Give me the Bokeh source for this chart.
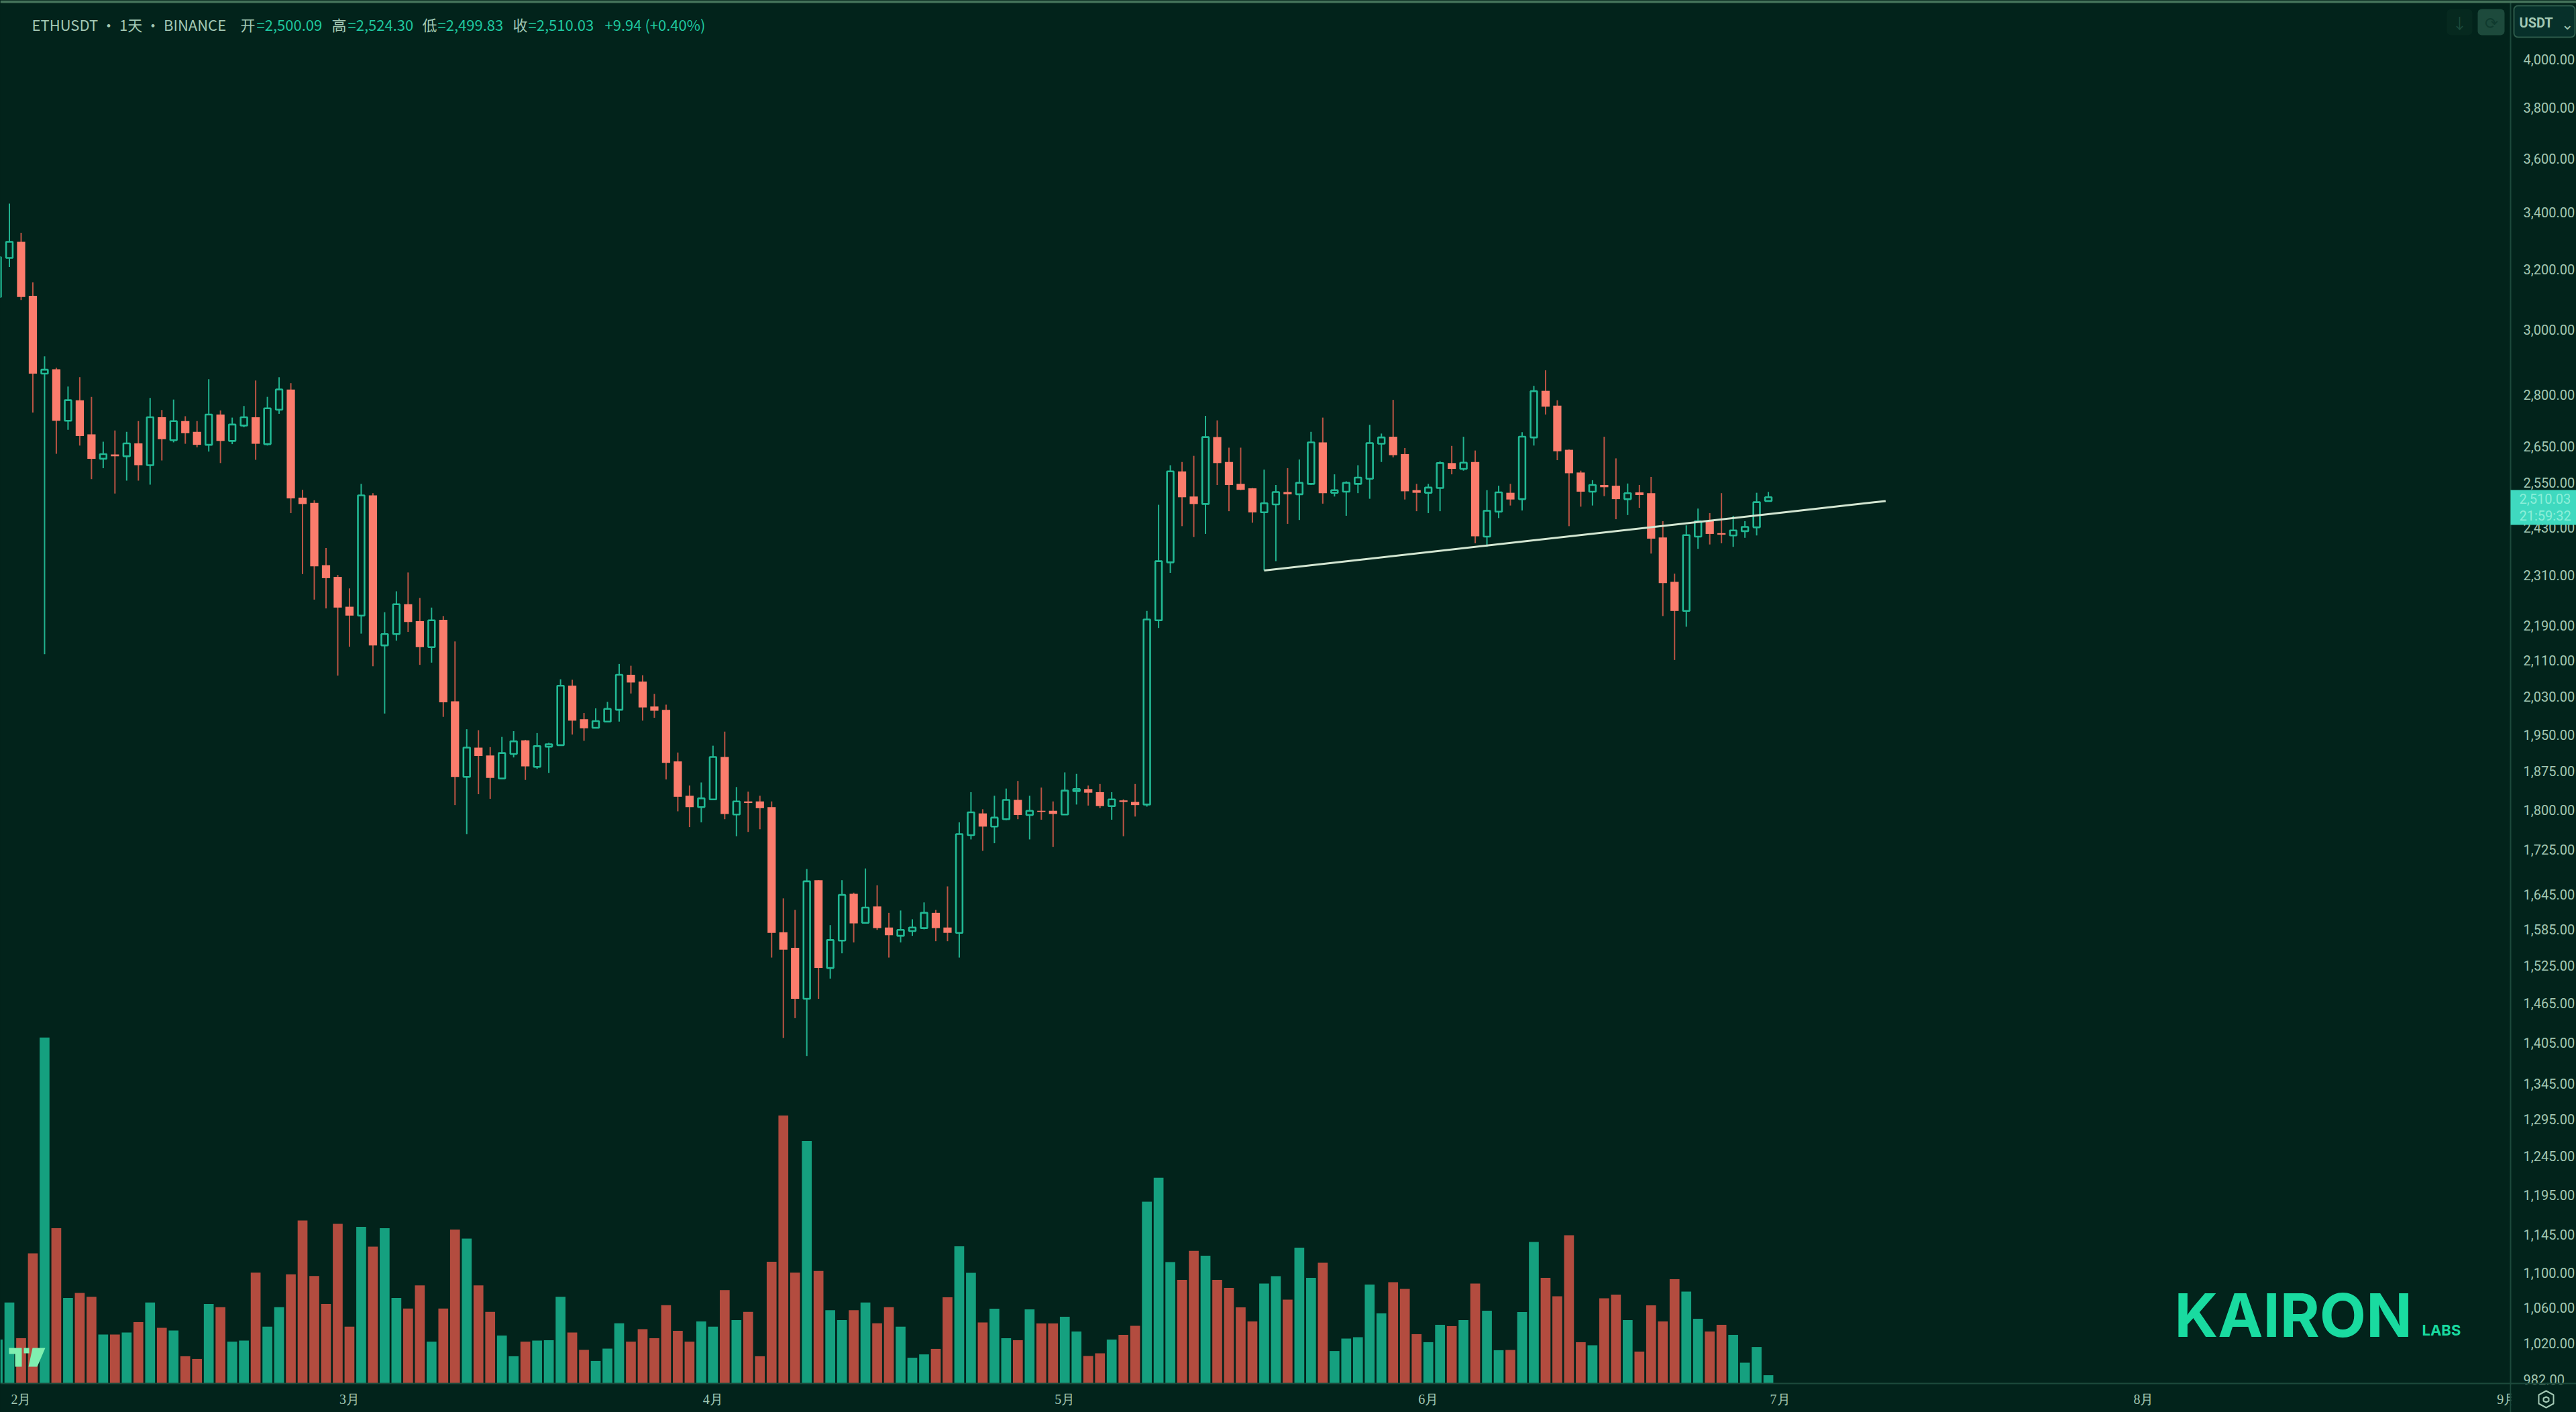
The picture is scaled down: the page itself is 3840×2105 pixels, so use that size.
from bokeh.embed import file_html
from bokeh.resources import INLINE
from bokeh.plotting import figure
from bokeh.models import (ColumnDataSource, Range1d, LinearScale, FixedTicker, NumeralTickFormatter,
                          Label, BoxAnnotation, PolyAnnotation, Span)

BG = "#02231b"
UP = "#21b994"
UP_WICK = "#21b28f"
DOWN = "#fb7c6c"
DOWN_WICK = "#bb5444"
VOL_UP = "#15a07f"
VOL_DOWN = "#b34c3f"
AXIS_TEXT = "#a3c8b4"
AXIS_LINE = "#1c4a3c"

# Daily ETHUSDT candles, 30 Jan - 30 Jun (day 0 = 1 Feb)
first_day = -2
open_ = [3106, 3238,
         3294, 3110, 2863, 2876, 2723, 2783, 2684, 2615, 2627, 2622, 2658, 2597, 2733, 2667, 2722, 2691, 2654, 2741, 2665, 2709, 2733, 2656, 2755, 2815, 2509, 2495, 2335, 2306,
         2234, 2213, 2515, 2144, 2170, 2240, 2200, 2140, 2203, 2020, 1864, 1923, 1907, 1861, 1910, 1938, 1884, 1925, 1928, 2054, 1982, 1964, 1977, 2002, 2078, 2063, 2009, 2002, 1895, 1827, 1805,
         1820, 1904, 1791, 1816, 1816, 1805, 1580, 1554, 1472, 1670, 1521, 1566, 1646, 1596, 1624, 1588, 1574, 1582, 1587, 1613, 1588, 1579, 1752, 1793, 1768, 1782, 1819, 1790, 1798, 1798,
         1791, 1836, 1840, 1834, 1807, 1818, 1815, 1810, 2202, 2342, 2580, 2512, 2492, 2676, 2606, 2546, 2534, 2470, 2491, 2524, 2518, 2546, 2661, 2522, 2525, 2546, 2560, 2657, 2677, 2628, 2529,
         2522, 2535, 2603, 2587, 2606, 2407, 2472, 2522, 2505, 2675, 2811, 2767, 2640, 2577, 2525, 2543, 2541, 2505, 2523, 2521, 2405, 2294, 2224, 2407, 2447, 2416, 2410, 2421, 2431, 2500.09]
high = [3281, 3431,
        3326, 3155, 2916, 2881, 2824, 2852, 2793, 2663, 2695, 2691, 2722, 2790, 2754, 2785, 2736, 2722, 2846, 2753, 2732, 2766, 2842, 2793, 2852, 2834, 2530, 2502, 2378, 2311,
        2278, 2546, 2521, 2221, 2271, 2317, 2255, 2232, 2212, 2153, 1961, 1959, 1924, 1945, 1957, 1939, 1953, 1933, 2068, 2067, 1995, 2005, 2019, 2102, 2098, 2077, 2036, 2013, 1913, 1847, 1853,
        1927, 1956, 1844, 1835, 1827, 1816, 1638, 1618, 1690, 1670, 1592, 1670, 1648, 1691, 1661, 1613, 1617, 1602, 1631, 1618, 1659, 1776, 1834, 1801, 1827, 1841, 1856, 1827, 1843, 1816,
        1873, 1870, 1847, 1850, 1834, 1820, 1850, 2224, 2490, 2597, 2606, 2623, 2737, 2724, 2646, 2646, 2535, 2585, 2543, 2589, 2613, 2691, 2732, 2572, 2553, 2597, 2711, 2686, 2784, 2645, 2546,
        2546, 2608, 2651, 2677, 2638, 2529, 2541, 2546, 2690, 2826, 2873, 2783, 2641, 2582, 2556, 2677, 2616, 2547, 2543, 2565, 2447, 2314, 2436, 2480, 2468, 2521, 2461, 2447, 2522, 2524.30]
low = [3100, 3207,
       3096, 2747, 2124, 2629, 2697, 2652, 2559, 2589, 2520, 2555, 2555, 2544, 2610, 2661, 2657, 2647, 2635, 2603, 2656, 2704, 2612, 2652, 2743, 2468, 2313, 2251, 2230, 2076,
       2141, 2171, 2097, 1994, 2155, 2175, 2100, 2105, 1987, 1809, 1754, 1830, 1821, 1860, 1903, 1858, 1880, 1872, 1928, 1950, 1937, 1963, 1977, 1977, 2037, 1979, 1985, 1859, 1797, 1767, 1776,
       1819, 1782, 1750, 1758, 1763, 1538, 1412, 1442, 1385, 1472, 1504, 1545, 1563, 1595, 1584, 1538, 1563, 1574, 1585, 1565, 1565, 1538, 1744, 1723, 1737, 1780, 1782, 1744, 1781, 1730,
       1790, 1810, 1808, 1803, 1781, 1750, 1787, 1806, 2184, 2316, 2434, 2406, 2414, 2543, 2473, 2529, 2443, 2322, 2345, 2440, 2450, 2543, 2493, 2512, 2461, 2521, 2506, 2606, 2619, 2504, 2473,
       2468, 2473, 2572, 2582, 2390, 2381, 2455, 2488, 2475, 2652, 2741, 2611, 2434, 2485, 2488, 2513, 2452, 2463, 2482, 2364, 2212, 2111, 2187, 2376, 2387, 2390, 2381, 2404, 2410, 2499.83]
close = [3241, 3294,
         3106, 2863, 2875, 2723, 2783, 2679, 2615, 2628, 2622, 2658, 2597, 2733, 2670, 2722, 2687, 2654, 2741, 2665, 2712, 2733, 2657, 2759, 2815, 2507, 2492, 2332, 2303, 2232,
         2213, 2515, 2144, 2170, 2240, 2198, 2140, 2202, 2018, 1864, 1923, 1906, 1862, 1912, 1936, 1885, 1926, 1930, 2054, 1979, 1963, 1978, 2004, 2078, 2061, 2007, 2000, 1892, 1825, 1805, 1822,
         1904, 1792, 1816, 1813, 1803, 1579, 1551, 1472, 1668, 1521, 1567, 1644, 1595, 1622, 1587, 1575, 1584, 1588, 1613, 1587, 1579, 1754, 1795, 1768, 1785, 1819, 1790, 1798, 1796, 1792,
         1837, 1840, 1833, 1807, 1820, 1815, 1809, 2204, 2345, 2580, 2510, 2492, 2676, 2603, 2543, 2530, 2470, 2494, 2524, 2518, 2549, 2661, 2521, 2529, 2549, 2563, 2659, 2675, 2625, 2526, 2522,
         2536, 2603, 2587, 2604, 2408, 2474, 2523, 2504, 2677, 2810, 2764, 2636, 2575, 2525, 2543, 2537, 2505, 2521, 2516, 2402, 2291, 2224, 2411, 2447, 2414, 2412, 2423, 2432, 2497, 2510.03]
# Daily volume, thousand ETH
volume = [328, 604,
          338, 970, 2579, 1157, 637, 675, 646, 365, 365, 380, 457, 604, 415, 395, 203, 183, 592, 569, 312, 320, 826, 424, 569, 814, 1215, 801, 592, 1190,
          424, 1167, 1020, 1157, 637, 559, 731, 312, 559, 1148, 1080, 731, 534, 357, 203, 312, 320, 322, 646, 380, 251, 168, 260, 449, 312, 405, 338, 584, 392, 312, 463,
          424, 696, 473, 534, 203, 907, 1997, 826, 1807, 839, 546, 473, 546, 604, 449, 569, 424, 192, 217, 258, 643, 1022, 825, 455, 558, 338, 322, 552, 447, 447,
          497, 388, 205, 225, 328, 362, 430, 1355, 1534, 905, 772, 989, 952, 772, 712, 567, 462, 745, 800, 625, 1012, 788, 900, 242, 335, 345, 738, 522, 755, 705, 368,
          308, 438, 428, 472, 745, 542, 248, 250, 532, 1055, 788, 650, 1105, 308, 285, 635, 662, 472, 238, 583, 462, 778, 685, 482, 388, 438, 362, 155, 272, 62]

month_days = [0, 28, 59, 89, 120, 150, 181, 212]
month_labels = ["2月", "3月", "4月", "5月", "6月", "7月", "8月", "9月"]
price_ticks = [4000, 3800, 3600, 3400, 3200, 3000, 2800, 2650, 2550, 2430, 2310, 2190, 2110, 2030, 1950, 1875,
               1800, 1725, 1645, 1585, 1525, 1465, 1405, 1345, 1295, 1245, 1195, 1145, 1100, 1060, 1020, 982]
trend_days = [106, 159]
trend_prices = [2322, 2500]

days = [first_day + i for i in range(len(close))]
assert len(open_) == len(high) == len(low) == len(close) == len(volume)

rising = [c >= o for o, c in zip(open_, close)]
def pick(flag):
    idx = [i for i, r in enumerate(rising) if r == flag]
    return ColumnDataSource(dict(
        x=[days[i] for i in idx], o=[open_[i] for i in idx], h=[high[i] for i in idx],
        l=[low[i] for i in idx], c=[close[i] for i in idx], v=[volume[i] for i in idx]))
up, down = pick(True), pick(False)

p = figure(frame_width=3840, frame_height=2105, output_backend="svg", toolbar_location=None,
           y_axis_type="log", y_axis_location="right", x_axis_location=None,
           x_range=Range1d(-1.773, 217.9), y_range=Range1d(948.0, 4259),
           background_fill_color=BG, border_fill_color=BG, outline_line_color=None,
           min_border_left=0, min_border_top=0, min_border_right=0, min_border_bottom=0)
p.grid.visible = False

p.extra_y_ranges = {"vol": Range1d(-215, 10310)}
p.extra_y_scales = {"vol": LinearScale()}

p.yaxis.fixed_location = 212.3
p.yaxis.ticker = FixedTicker(ticks=price_ticks)
p.yaxis.formatter = NumeralTickFormatter(format="0,0.00")
p.yaxis.major_label_text_font = "Roboto"
p.yaxis.major_label_text_font_size = "20px"
p.yaxis.major_label_text_color = AXIS_TEXT
p.yaxis.major_tick_line_color = None
p.yaxis.minor_tick_line_color = None
p.yaxis.axis_line_color = AXIS_LINE
p.yaxis.axis_line_width = 2
p.yaxis.major_label_standoff = 13

# time scale: baseline and month labels
TIME_BASE = 977.6
TIME_LABEL = 961.6
p.add_layout(Span(location=TIME_BASE, dimension="width", line_color=AXIS_LINE, line_width=2))
p.text(x=month_days, y=[TIME_LABEL] * len(month_days), text=month_labels, text_color=AXIS_TEXT,
       text_font="Noto Sans CJK SC", text_font_size="20px", text_align="center", text_baseline="middle")

# volume
p.vbar(x="x", top="v", bottom=0, width=0.84, source=up, fill_color=VOL_UP, line_color=None, y_range_name="vol")
p.vbar(x="x", top="v", bottom=0, width=0.84, source=down, fill_color=VOL_DOWN, line_color=None, y_range_name="vol")
# candles
p.segment(x0="x", x1="x", y0="l", y1="h", source=up, line_color=UP_WICK, line_width=2)
p.segment(x0="x", x1="x", y0="l", y1="h", source=down, line_color=DOWN_WICK, line_width=2)
p.vbar(x="x", top="c", bottom="o", width=0.56, source=up, fill_color=BG, line_color=UP, line_width=2.6)
p.vbar(x="x", top="o", bottom="c", width=0.7, source=down, fill_color=DOWN, line_color=None)
# trend line
p.line(trend_days, trend_prices, line_color="#d3e6d2", line_width=3)

# --- page furniture, placed in reference pixels
def text(x, y, s, color, size, font="Noto Sans CJK SC", style="normal", align="left"):
    p.add_layout(Label(x=x, y=y, x_units="canvas", y_units="canvas", text=s, text_color=color,
                       text_font=font, text_font_size=f"{size}px", text_font_style=style,
                       text_align=align, text_baseline="middle"))

def box(l, t, r, b, fill, line=None, radius=0):
    p.add_layout(BoxAnnotation(left=l, right=r, top=t, bottom=b,
                               left_units="canvas", right_units="canvas", top_units="canvas", bottom_units="canvas",
                               fill_color=fill, fill_alpha=1, line_color=line, line_alpha=1 if line else 0,
                               line_width=2, border_radius=radius, editable=False, level="annotation"))

def poly(xs, ys, fill=None, line=None, width=2):
    p.add_layout(PolyAnnotation(xs=xs, ys=ys, xs_units="canvas", ys_units="canvas",
                                fill_color=fill, fill_alpha=1 if fill else 0, line_color=line, line_alpha=1 if line else 0,
                                line_width=width, level="annotation"))

# top edge of the window
box(0, 0, 3840, 4, "#44725a")

# lower right corner: the price scale covers the end of the time scale
box(3743, 2064, 3840, 2105, BG)
poly([3795, 3806, 3806, 3795, 3784, 3784], [2073, 2079, 2092, 2098, 2092, 2079], line=AXIS_TEXT)
poly([3795, 3799, 3799, 3795, 3791, 3791], [2082, 2084, 2088, 2090, 2088, 2084], line=AXIS_TEXT)

# legend line
text(47, 35, "ETHUSDT · 1天 · BINANCE", "#a3c8b4", 22)
LEG = "#1fc79f"
for lx, lab, vx, val in [(358, "开", 382, "=2,500.09"), (494, "高", 518, "=2,524.30"),
                         (629, "低", 652, "=2,499.83"), (764, "收", 787, "=2,510.03")]:
    text(lx, 35, lab, "#a3c8b4", 22)
    text(vx, 35, val, LEG, 22)
text(901, 35, "+9.94 (+0.40%)", LEG, 22)

# top right buttons
box(3647, 13, 3685, 52, "#06291f", radius=6)
text(3666, 32, "↓", "#1c4a3c", 22, align="center")
box(3693, 13, 3733, 52, "#1d4a3c", radius=6)
text(3713, 32, "⟳", "#0f3a2e", 24, align="center")
box(3747, 8, 3838, 55, "#07302a", line="#2d5a4a", radius=6)
text(3755, 33, "USDT", "#a3c8b4", 20, font="Roboto", style="bold")
text(3826, 33, "⌄", "#a3c8b4", 22, align="center")

# last price tag
box(3742, 730, 3840, 782, "#3fd9bf")
text(3755, 743, "2,510.03", "#8cefd9", 20, font="Roboto")
text(3755, 768, "21:59:32", "#8cefd9", 20, font="Roboto")

# logos
MINT = "#19dba0"
text(3241, 1960, "KAIRON", MINT, 90, font="Inter", style="bold")
text(3610, 1982, "LABS", MINT, 22, font="Inter", style="bold")
TV = "#7ff0b0"
poly([13, 32, 32, 22, 22, 13], [2009, 2009, 2037, 2037, 2018, 2018], fill=TV)
poly([35, 43, 43, 35], [2009, 2009, 2017, 2017], fill=TV)
poly([48, 67, 55, 42], [2009, 2009, 2037, 2037], fill=TV)

TEMPLATE = """
{% block postamble %}<style>html,body{overflow:hidden;background:""" + BG + """}</style>{% endblock %}
"""
open("out.html", "w").write(file_html(p, INLINE, template=TEMPLATE))
